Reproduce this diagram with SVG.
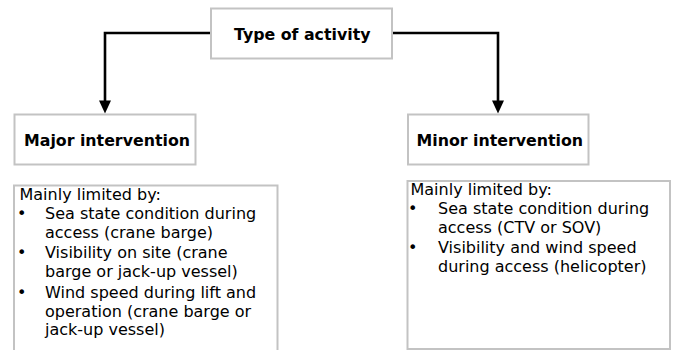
<svg xmlns="http://www.w3.org/2000/svg" width="676" height="350" viewBox="0 0 676 350">
<style>
.box{fill:#ffffff;stroke:#c3c3c3;stroke-width:2}
.h{font-family:"DejaVu Sans",Verdana,sans-serif;font-weight:bold;font-size:15.8px;fill:#000}
.t{font-family:"DejaVu Sans",Verdana,sans-serif;font-size:16px;fill:#000}
.c{fill:none;stroke:#000;stroke-width:2.6}
.ah{fill:#000}
</style>
<rect width="676" height="350" fill="#fff"/>
<g id="connectors">
<path class="c" d="M211,33 H105 V101"/>
<polygon class="ah" points="99,100.5 111,100.5 105,113.5"/>
<path class="c" d="M392,33 H498 V101"/>
<polygon class="ah" points="492,100.5 504,100.5 498,113.5"/>
</g>
<g id="type-of-activity">
<rect class="box" x="211" y="8.5" width="181" height="50"/>
<text class="h" x="234" y="40">Type of activity</text>
</g>
<g id="major-intervention">
<rect class="box" x="14.5" y="114.5" width="181" height="50"/>
<text class="h" x="24" y="146">Major intervention</text>
</g>
<g id="minor-intervention">
<rect class="box" x="408" y="114.5" width="180.5" height="50"/>
<text class="h" x="416.5" y="146">Minor intervention</text>
</g>
<g id="major-limits">
<rect class="box" x="14" y="185.5" width="263.5" height="180"/>
<text class="t" x="19.5" y="199.5">Mainly limited by:</text>
<text class="t" x="17" y="218.5">•</text>
<text class="t" x="45" y="218.5">Sea state condition during</text>
<text class="t" x="45" y="237.5">access (crane barge)</text>
<text class="t" x="17" y="258">•</text>
<text class="t" x="45" y="258">Visibility on site (crane</text>
<text class="t" x="45" y="277">barge or jack-up vessel)</text>
<text class="t" x="17" y="297.5">•</text>
<text class="t" x="45" y="297.5">Wind speed during lift and</text>
<text class="t" x="45" y="316.5">operation (crane barge or</text>
<text class="t" x="45" y="335">jack-up vessel)</text>
</g>
<g id="minor-limits">
<rect class="box" x="407.5" y="181" width="262.5" height="168"/>
<text class="t" x="410.5" y="195">Mainly limited by:</text>
<text class="t" x="408" y="213.5">•</text>
<text class="t" x="438" y="213.5">Sea state condition during</text>
<text class="t" x="438" y="232.5">access (CTV or SOV)</text>
<text class="t" x="408" y="252.5">•</text>
<text class="t" x="438" y="252.5">Visibility and wind speed</text>
<text class="t" x="438" y="271.5">during access (helicopter)</text>
</g>
</svg>
